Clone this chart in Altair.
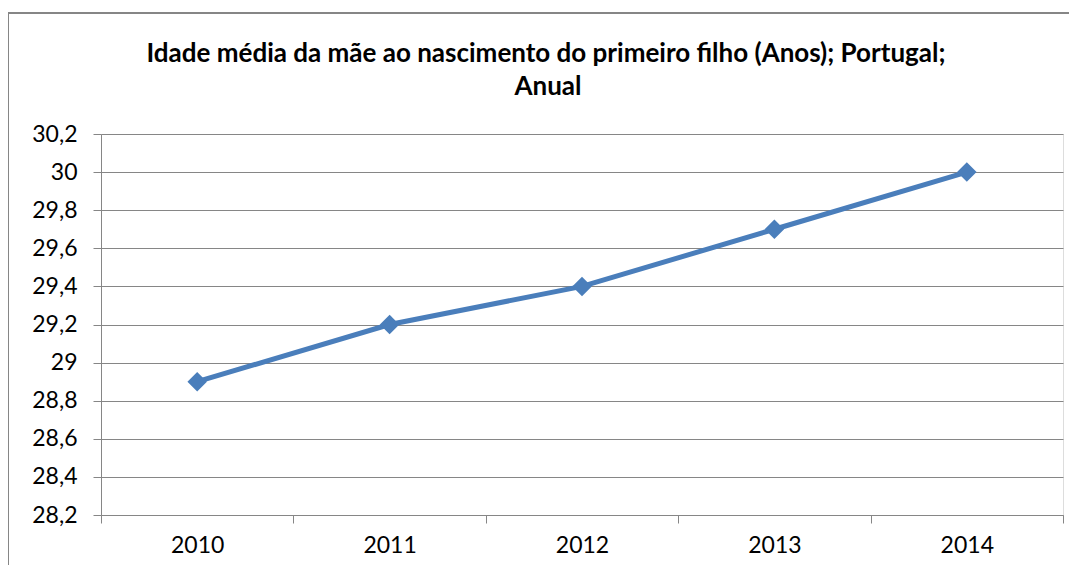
import altair as alt
import pandas as pd

years = ["2010", "2011", "2012", "2013", "2014"]
values = [28.9, 29.2, 29.4, 29.7, 30.0]
y_ticks = [28.2, 28.4, 28.6, 28.8, 29.0, 29.2, 29.4, 29.6, 29.8, 30.0, 30.2]
title_lines = ["Idade média da mãe ao nascimento do primeiro filho (Anos); Portugal;", "Anual"]

df = pd.DataFrame({"year": years, "value": values})

W, H = 962, 381
GRAY = "#868686"
BLUE = "#4A7EBB"
FONT = "Lato"
one = alt.Data(values=[{"k": 1}])

border = alt.Chart(one).mark_rect(
    fillOpacity=0, stroke=GRAY, strokeWidth=2, clip=False
).encode(
    x=alt.value(-93), x2=alt.value(W + 100),
    y=alt.value(-121), y2=alt.value(H + 100),
)

title1 = alt.Chart(one).mark_text(
    font=FONT, fontSize=26, fontWeight="bold", color="black",
    align="center", baseline="alphabetic", clip=False
).encode(x=alt.value(445), y=alt.value(-72), text=alt.value(title_lines[0]))

title2 = alt.Chart(one).mark_text(
    font=FONT, fontSize=26, fontWeight="bold", color="black",
    align="center", baseline="alphabetic", clip=False
).encode(x=alt.value(447), y=alt.value(-39), text=alt.value(title_lines[1]))

line = alt.Chart(df).mark_line(
    color=BLUE, strokeWidth=5,
    point=alt.OverlayMarkDef(shape="diamond", size=380, filled=True, color=BLUE, opacity=1),
).encode(
    x=alt.X("year:N", title=None,
            scale=alt.Scale(type="band", paddingInner=0, paddingOuter=0),
            axis=alt.Axis(labelAngle=0, tickBand="extent", grid=False,
                          domainColor=GRAY, tickColor=GRAY, tickSize=8, tickWidth=1,
                          labelFont=FONT, labelFontSize=23, labelColor="black",
                          labelPadding=11)),
    y=alt.Y("value:Q", title=None,
            scale=alt.Scale(domain=[28.2, 30.2], nice=False, zero=False),
            axis=alt.Axis(values=y_ticks, grid=True, gridColor=GRAY, gridWidth=1,
                          domainColor=GRAY, tickColor=GRAY, tickSize=8, tickWidth=1,
                          labelFont=FONT, labelFontSize=23, labelColor="black",
                          labelPadding=16,
                          labelExpr="replace(format(datum.value, '.3~g'), '.', ',')")),
)

chart = alt.layer(border, title1, title2, line).properties(
    width=W, height=H,
    autosize=alt.AutoSizeParams(type="none"),
    padding={"left": 93, "top": 126, "right": 6, "bottom": 50},
).configure_view(stroke=None).configure(background="white")

chart.save("out.html", embed_options={"renderer": "svg", "actions": False})
